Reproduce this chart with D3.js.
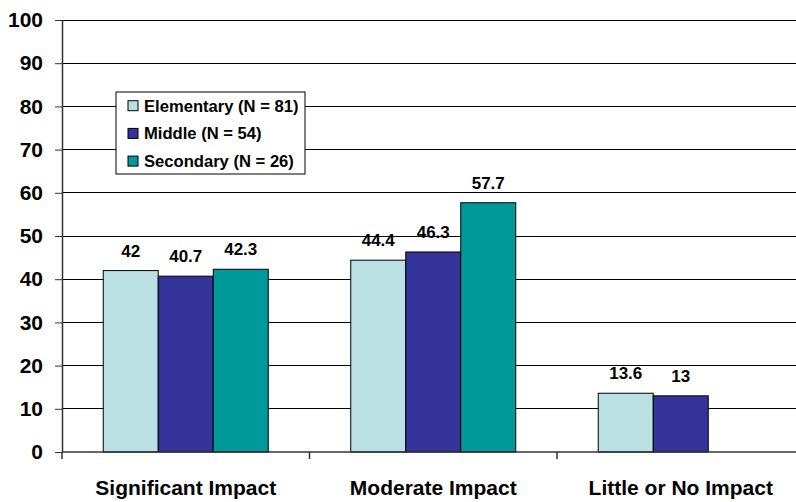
<!DOCTYPE html>
<html><head><meta charset="utf-8">
<script src="https://cdn.jsdelivr.net/npm/d3@7"></script>
<style>body{margin:0;background:#fff;}svg{display:block;font-family:"Liberation Sans",Arial,sans-serif;}</style>
</head><body>
<svg id="c" width="796" height="502"></svg>
<script>
const categories = ["Significant Impact", "Moderate Impact", "Little or No Impact"];
const seriesNames = ["Elementary (N = 81)", "Middle (N = 54)", "Secondary (N = 26)"];
const elementary = [42, 44.4, 13.6];
const middle = [40.7, 46.3, 13];
const secondary = [42.3, 57.7, null];
const yTicks = [0,10,20,30,40,50,60,70,80,90,100];
const colors = ["#BBE0E3", "#333399", "#009999"];

(function(){
const svg = d3.select("#c");
const pLeft = 62, pRight = 804.5, pTop = 20, pBottom = 452;
const y = d3.scaleLinear().domain([0,100]).range([pBottom, pTop]);
const x0 = d3.scaleBand().domain(categories).range([pLeft, pRight]).paddingInner(0).paddingOuter(0);
const bw = x0.bandwidth();
const x1 = d3.scaleBand().domain(seriesNames).range([bw/6, bw*5/6]);

// gridlines
svg.append("g").selectAll("line").data(yTicks.filter(d=>d>0)).join("line")
  .attr("x1", pLeft).attr("x2", 796).attr("y1", d=>y(d)).attr("y2", d=>y(d))
  .attr("stroke", "#000").attr("stroke-width", 1).attr("shape-rendering","crispEdges");

// bars
const series = [elementary, middle, secondary];
const g = svg.append("g");
categories.forEach((c, ci) => {
  series.forEach((s, si) => {
    const v = s[ci];
    if (v == null) return;
    const bx = x0(c) + x1(seriesNames[si]);
    g.append("rect").attr("x", bx).attr("y", y(v)).attr("width", x1.bandwidth()).attr("height", y(0)-y(v))
      .attr("fill", colors[si]).attr("stroke", "#000").attr("stroke-width", 1);
    g.append("text").attr("x", bx + x1.bandwidth()/2).attr("y", y(v) - 14)
      .attr("text-anchor","middle").attr("font-weight","bold").attr("font-size", 17).text(v);
  });
});

// y axis
const ya = d3.axisLeft(y).tickValues(yTicks).tickSize(7).tickPadding(12).tickSizeOuter(0);
const yg = svg.append("g").attr("transform", `translate(${pLeft},0)`).call(ya);
yg.select(".domain").attr("stroke", "#333").attr("stroke-width", 1.5);
yg.selectAll(".tick line").attr("stroke", "#333");
yg.selectAll("text").attr("font-size", 21).attr("font-weight","bold").attr("fill","#000")
  .attr("font-family", "Liberation Sans, Arial, sans-serif");
svg.append("line").attr("x1", pLeft).attr("x2", pLeft).attr("y1", pBottom).attr("y2", pBottom+7).attr("stroke","#333").attr("stroke-width",1.5);

// x axis
svg.append("line").attr("x1", pLeft).attr("x2", 796).attr("y1", pBottom).attr("y2", pBottom).attr("stroke","#333").attr("stroke-width",1.5);
svg.append("g").selectAll("line").data(categories.slice(1)).join("line")
  .attr("x1", d=>x0(d)).attr("x2", d=>x0(d)).attr("y1", pBottom).attr("y2", pBottom+7).attr("stroke","#333").attr("stroke-width",1.5);
svg.append("g").selectAll("text").data(categories).join("text")
  .attr("x", d=>x0(d)+bw/2).attr("y", 495).attr("text-anchor","middle")
  .attr("font-size", 21).attr("font-weight","bold").text(d=>d);

// legend
const lg = svg.append("g");
lg.append("rect").attr("x", 116).attr("y", 92).attr("width", 189).attr("height", 82).attr("fill","#fff").attr("stroke","#000").attr("stroke-width",1);
seriesNames.forEach((n, i) => {
  const cy = 105.7 + i*27.7;
  lg.append("rect").attr("x", 128).attr("y", cy-5).attr("width", 10).attr("height", 10).attr("fill", colors[i]).attr("stroke","#000").attr("stroke-width",1);
  lg.append("text").attr("x", 144).attr("y", cy+6).attr("font-size", 16.6).attr("font-weight","bold").text(n);
});
})();
</script>
</body></html>
